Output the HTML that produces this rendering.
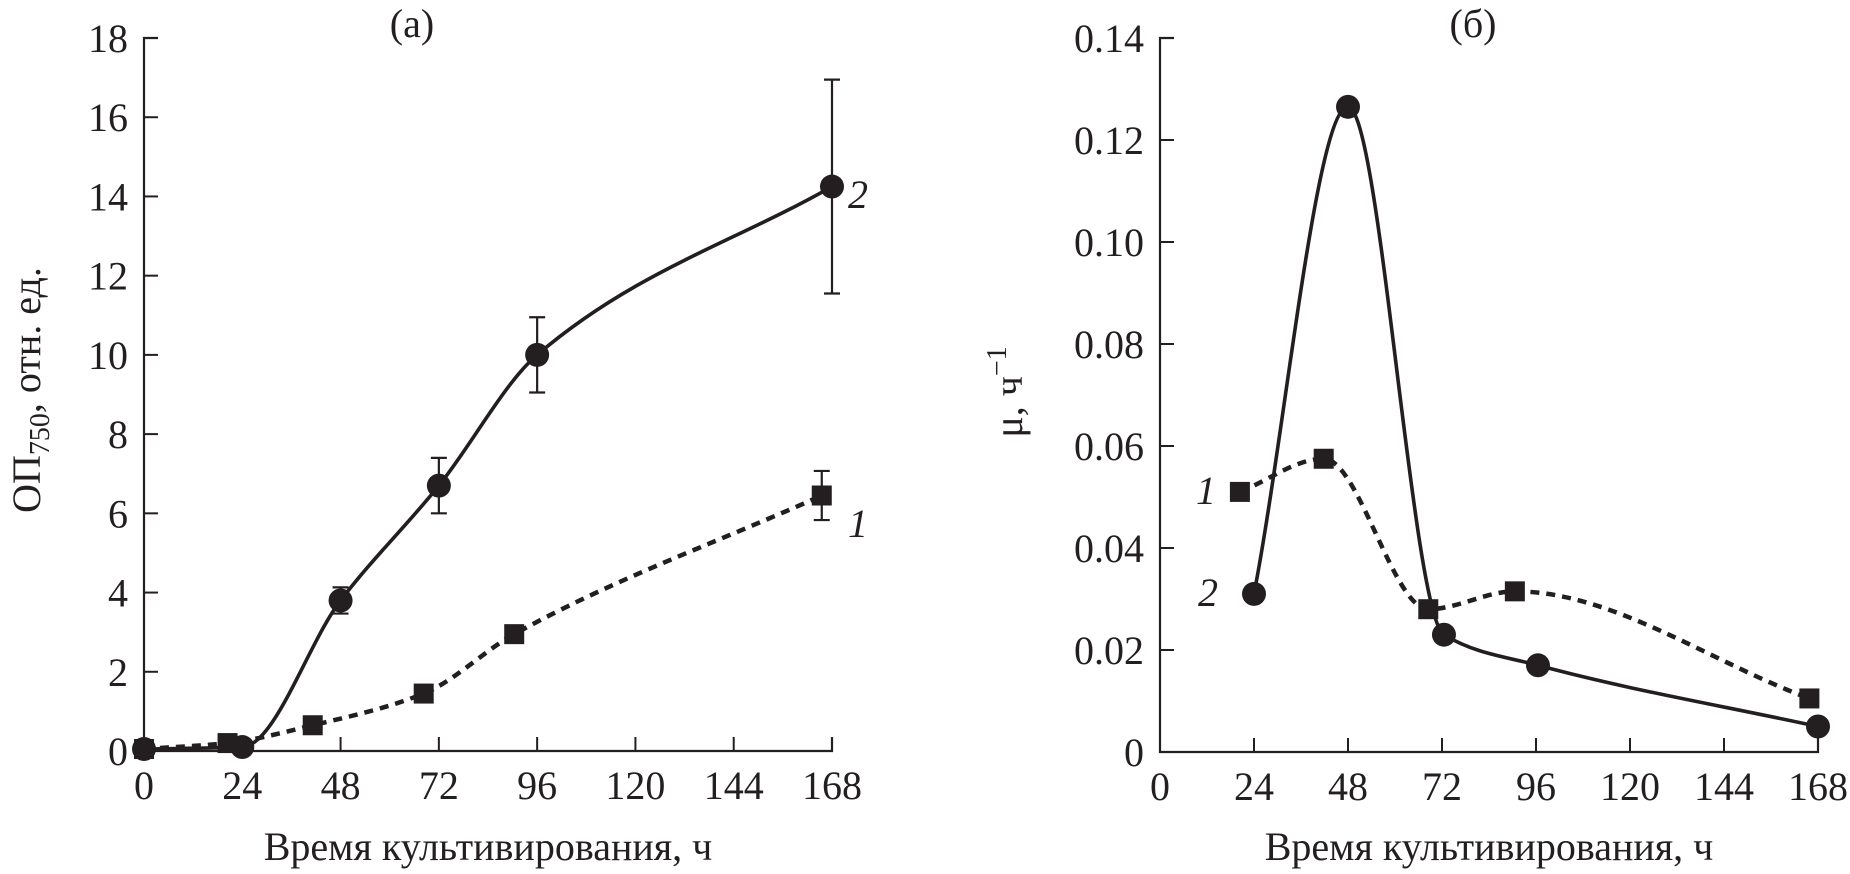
<!DOCTYPE html>
<html><head><meta charset="utf-8"><style>
html,body{margin:0;padding:0;background:#fff}
svg{display:block}
text{font-family:"Liberation Serif",serif;fill:#231f20}
</style></head><body>
<svg id="c" width="1850" height="874" viewBox="0 0 1850 874"></svg>
<script>
// ---- Data panel (a) ----
const hoursA1 = [0, 20.4, 41.2, 68.3, 90.4, 165.5];
const odA1 = [0.05, 0.2, 0.65, 1.45, 2.95, 6.45];
const errA1 = [0, 0, 0, 0, 0, 0.62];
const hoursA2 = [0, 24, 48, 72, 96, 168];
const odA2 = [0.05, 0.1, 3.8, 6.7, 10.0, 14.25];
const errA2 = [0, 0, 0.33, 0.7, 0.95, 2.7];
const xTicksA = [0, 24, 48, 72, 96, 120, 144, 168];
const yTicksA = [0, 2, 4, 6, 8, 10, 12, 14, 16, 18];
// ---- Data panel (b) ----
const hoursB1 = [20.4, 41.8, 68.5, 90.6, 165.8];
const muB1 = [0.051, 0.0575, 0.028, 0.0315, 0.0105];
const hoursB2 = [24, 48, 72.5, 96.5, 168];
const muB2 = [0.031, 0.1265, 0.023, 0.017, 0.005];
const xTicksB = [0, 24, 48, 72, 96, 120, 144, 168];
const yTicksB = ["0", "0.02", "0.04", "0.06", "0.08", "0.10", "0.12", "0.14"];

const NS = "http://www.w3.org/2000/svg";
const svg = document.getElementById('c');
function mk(tag, attrs, parent){const e=document.createElementNS(NS,tag);for(const k in attrs)e.setAttribute(k,attrs[k]);(parent||svg).appendChild(e);return e;}
// PCHIP interpolation (weighted harmonic mean slopes)
function spline(pts){
  const n=pts.length, h=[], s=[], m=[];
  for(let i=0;i<n-1;i++){h[i]=pts[i+1][0]-pts[i][0];s[i]=(pts[i+1][1]-pts[i][1])/h[i];}
  m[0]=s[0];m[n-1]=s[n-2];
  for(let i=1;i<n-1;i++){
    if(s[i-1]*s[i]<=0){m[i]=0;continue;}
    const w1=2*h[i]+h[i-1], w2=h[i]+2*h[i-1];
    m[i]=(w1+w2)/(w1/s[i-1]+w2/s[i]);
  }
  let d=`M${pts[0][0]},${pts[0][1]}`;
  for(let i=0;i<n-1;i++){
    const k=h[i]/3;
    d+=` C${pts[i][0]+k},${pts[i][1]+m[i]*k} ${pts[i+1][0]-k},${pts[i+1][1]-m[i+1]*k} ${pts[i+1][0]},${pts[i+1][1]}`;
  }
  return d;
}
function panel(o){
  const g=mk('g',{});
  
  
  const X=v=>o.x0+(v/168)*(o.x1-o.x0);
  const Y=v=>o.y0-(v/o.ymax)*(o.y0-o.y1);
  const ax=mk('path',{d:`M${o.x0+14},${o.y1} H${o.x0} V${o.y0} H${X(168)} V${o.y0-14}`,stroke:'#231f20','stroke-width':2.2,fill:'none'},g);
  
  
  o.xt.forEach(v=>{
    mk('line',{x1:X(v),x2:X(v),y1:o.y0,y2:o.y0-14,stroke:'#231f20','stroke-width':2},g);
    const t=mk('text',{x:X(v),y:o.y0+48,'text-anchor':'middle','font-size':40},g);
    t.textContent=v;
    
    
  });
  o.yt.forEach(lbl=>{
    const v=parseFloat(lbl);
    mk('line',{x1:o.x0,x2:o.x0+14,y1:Y(v),y2:Y(v),stroke:'#231f20','stroke-width':2},g);
    const t=mk('text',{x:o.x0-16,y:Y(v)+14,'text-anchor':'end','font-size':40},g);
    t.textContent=lbl;
    
    
  });
  const ti=mk('text',{x:o.tx,y:37,'text-anchor':'middle','font-size':40},g);
  ti.textContent=o.title;
  
  
  const xl=mk('text',{x:(o.x0+X(168))/2,y:860,'text-anchor':'middle','font-size':40},g);
  xl.textContent='Время культивирования, ч';
  
  
  return {g,X,Y};
}
function series(p,xs,ys,errs,marker,dashed,name){
  const pts=xs.map((x,i)=>[p.X(x),p.Y(ys[i])]);
  const l=mk('path',{d:spline(pts),fill:'none',stroke:'#231f20','stroke-width':dashed?4.5:3.6,'stroke-dasharray':dashed?'9 7':'none'},p.g);
  
  
  if(errs) xs.forEach((x,i)=>{
    if(!errs[i])return;
    const cx=p.X(x),a=p.Y(ys[i]+errs[i]),b=p.Y(ys[i]-errs[i]);
    const e=mk('path',{d:`M${cx},${a}V${b}M${cx-8},${a}H${cx+8}M${cx-8},${b}H${cx+8}`,stroke:'#231f20','stroke-width':2.2,fill:'none'},p.g);
    
    
  });
  pts.forEach(q=>{
    let m;
    if(marker==='c') m=mk('circle',{cx:q[0],cy:q[1],r:12,fill:'#231f20'},p.g);
    else m=mk('rect',{x:q[0]-10,y:q[1]-10,width:20,height:20,fill:'#231f20'},p.g);
    
    
  });
}
function label(p,x,y,txt){
  const t=mk('text',{x,y,'font-size':40,'font-style':'italic','text-anchor':'middle'},p.g);
  t.textContent=txt;
  
  
}
const pa=panel({name:'panel-a',x0:144,x1:832,y0:751,y1:38,ymax:18,xt:xTicksA,yt:yTicksA.map(String),title:'(а)',tx:412});
series(pa,hoursA1,odA1,errA1,'s',true,'series-1');
series(pa,hoursA2,odA2,errA2,'c',false,'series-2');
label(pa,858,208,'2');
label(pa,858,537,'1');
const yl=mk('text',{transform:'translate(40,390) rotate(-90)','text-anchor':'middle','font-size':40});
yl.innerHTML='ОП<tspan font-size="28" dy="9">750</tspan><tspan dy="-9">, отн. ед.</tspan>';



const pb=panel({name:'panel-b',x0:1160,x1:1818,y0:752,y1:38,ymax:0.14,xt:xTicksB,yt:yTicksB,title:'(б)',tx:1473});
series(pb,hoursB1,muB1,null,'s',true,'series-1');
series(pb,hoursB2,muB2,null,'c',false,'series-2');
label(pb,1206,504,'1');
label(pb,1208,606,'2');
const yl2=mk('text',{transform:'translate(1022,392) rotate(-90)','text-anchor':'middle','font-size':40});
yl2.innerHTML='μ, ч<tspan font-size="28" dy="-16">−1</tspan>';


</script>
</body></html>
